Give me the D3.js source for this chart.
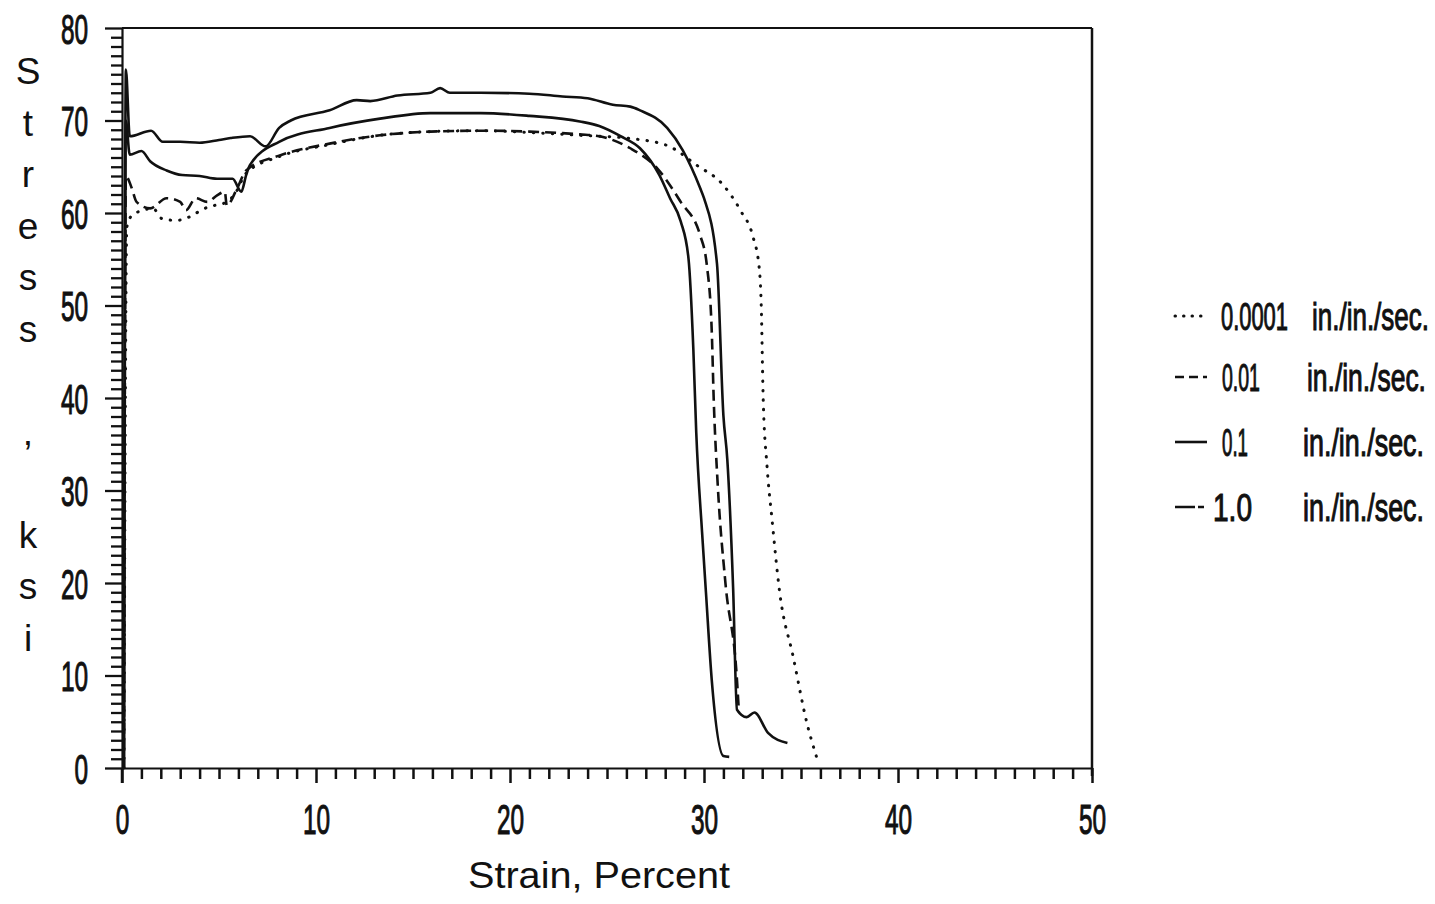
<!DOCTYPE html>
<html>
<head>
<meta charset="utf-8">
<script src="https://cdn.jsdelivr.net/npm/d3@7"></script>
<style>
  html, body { margin: 0; padding: 0; background: #fff; }
  svg { display: block; }
  text { fill: #111; font-family: "Liberation Sans", "DejaVu Sans", sans-serif; }
</style>
</head>
<body>
<svg id="chart" width="1435" height="904"></svg>
<script>
// Stress-strain curves at four strain rates: [strain %, stress ksi]
const rate00001 = [
  [0.1,0],[0.25,58.5],[0.5,59.7],[1.1,60.3],[1.6,60.5],[2.05,59.4],[2.8,59.2],[3.5,59.6],
  [4.0,60.2],[4.5,60.7],[5.2,61.0],[5.8,62.0],[6.4,64.3],[8.1,66.1],[10.7,67.4],[13.3,68.4],
  [15.9,68.8],[18.5,68.9],[21,68.7],[23.6,68.4],[26.0,68.1],[28.1,67.3],[29.6,65.2],[31.0,63.0],
  [31.9,60.2],[32.5,57.6],[32.85,54.0],[32.95,50.0],[33.05,40.0],[33.25,32.6],[33.5,27.0],
  [33.9,19.0],[34.6,12.0],[35.3,4.9],[35.8,1.2]
];
const rate001 = [
  [0.1,0],[0.2,64.0],[0.5,62.7],[0.75,61.2],[1.45,60.5],[2.3,61.6],[3.0,61.2],[3.3,60.3],
  [3.8,61.6],[4.4,61.2],[4.9,61.9],[5.3,62.3],[5.4,60.8],[5.9,62.5],[6.4,64.6],[8.1,66.2],
  [10.7,67.5],[13.3,68.4],[15.9,68.8],[18.5,68.9],[21,68.8],[23.6,68.5],[24.6,68.3],[26.2,67.0],
  [27.6,64.8],[28.8,61.2],[29.8,57.6],[30.15,54.3],[30.4,47.2],[30.5,39.9],[30.7,30.9],
  [31.1,20.1],[31.7,9.5],[31.8,6.0]
];
const rate01 = [
  [0.1,0],[0.2,70.0],[0.4,66.3],[1.0,66.7],[1.45,65.6],[2.3,64.6],[3.1,64.1],[4.0,64.0],
  [4.9,63.7],[5.7,63.7],[6.15,62.3],[6.4,64.1],[6.6,65.2],[8.1,67.7],[10.7,69.2],[13.3,70.2],
  [15.9,70.8],[18.5,70.8],[21,70.5],[23.6,69.9],[24.6,69.4],[25.7,68.3],[26.7,67.0],[27.7,64.1],
  [28.25,61.6],[28.8,59.1],[29.2,55.1],[29.45,45.3],[29.6,36.3],[29.9,25.5],[30.1,19.0],
  [30.4,9.5],[31.0,1.3],[31.3,1.2]
];
const rate10 = [
  [0.1,0],[0.2,75.5],[0.4,68.3],[1.5,68.9],[2.1,67.7],[3,67.7],[4,67.6],[5,67.9],[5.6,68.1],
  [6.6,68.3],[7.4,67.2],[8.1,69.2],[8.7,70.0],[10.7,71.1],[12.1,72.2],[12.8,72.1],[14.2,72.7],
  [15.9,73.0],[16.4,73.5],[16.9,73.0],[18.5,73.0],[21,72.9],[22.7,72.6],[24,72.4],[25.3,71.7],
  [26.2,71.5],[26.7,71.1],[28.1,69.2],[28.9,66.8],[29.8,62.7],[30.0,61.6],[30.67,54.5],
  [31.0,38.1],[31.2,33.4],[31.5,19.5],[31.7,6.3],[32.2,5.5],[32.6,6.0],[33.3,3.8],[34.3,2.7]
];

const rateLabels = ["0.0001", "0.01", "0.1", "1.0"];
const unitLabel = "in./in./sec.";
const xMajorTicks = [0, 10, 20, 30, 40, 50];
const yMajorTicks = [0, 10, 20, 30, 40, 50, 60, 70, 80];
const xTitle = "Strain, Percent";
const yTitle = "Stress , ksi";

const seriesList = [
  { data: rate00001, dash: "0.5 9", width: 3, cap: "round", sample: "0.5 8" },
  { data: rate001, dash: "11 6", width: 2.6, cap: "butt", sample: "9 5" },
  { data: rate01, dash: null, width: 2.6, cap: "butt", sample: null },
  { data: rate10, dash: null, width: 2.6, cap: "butt", sample: "20 3 6 40" }
];

const svg = d3.select("#chart");
const plotLeft = 122, plotRight = 1092, plotTop = 28, plotBottom = 768;
const x = d3.scaleLinear().domain([0, 50]).range([plotLeft, plotRight]);
const y = d3.scaleLinear().domain([0, 80]).range([plotBottom, plotTop]);

const narrow = 0.58;
const labelFont = "Liberation Sans, sans-serif";

// frame: top and right edges
svg.append("line").attr("x1", plotLeft).attr("x2", plotRight).attr("y1", plotTop).attr("y2", plotTop)
  .attr("stroke", "#111").attr("stroke-width", 2);
svg.append("line").attr("x1", plotRight).attr("x2", plotRight).attr("y1", plotTop).attr("y2", plotBottom + 8)
  .attr("stroke", "#111").attr("stroke-width", 2.5);

// x axis
const xAxis = d3.axisBottom(x)
  .tickValues(d3.range(0, 51, 1))
  .tickSizeInner(11).tickSizeOuter(0)
  .tickFormat(d => xMajorTicks.includes(d) ? String(d) : "");
const gx = svg.append("g").attr("transform", `translate(0,${plotBottom})`).call(xAxis);
gx.select(".domain").attr("stroke", "#111").attr("stroke-width", 2.2);
gx.selectAll(".tick line").attr("stroke", "#111").attr("stroke-width", 2.5)
  .attr("y2", d => xMajorTicks.includes(d) ? 15 : 11);
gx.selectAll(".tick text")
  .attr("y", 66).attr("dy", 0)
  .attr("font-size", 42)
  .attr("font-family", labelFont)
  .attr("stroke", "#111").attr("stroke-width", 1.1)
  .attr("transform", `scale(${narrow},1)`)
  .attr("fill", "#111");

// y axis
const yAxis = d3.axisLeft(y)
  .tickValues(d3.range(0, 81, 1))
  .tickSizeInner(11).tickSizeOuter(0)
  .tickFormat(d => yMajorTicks.includes(d) ? String(d) : "");
const gy = svg.append("g").attr("transform", `translate(${plotLeft},0)`).call(yAxis);
gy.select(".domain").attr("stroke", "#111").attr("stroke-width", 2.2);
gy.selectAll(".tick line").attr("stroke", "#111").attr("stroke-width", 2.3)
  .attr("x2", d => yMajorTicks.includes(d) ? -17 : -11);
gy.selectAll(".tick text")
  .attr("x", -34 / narrow).attr("dy", "0.36em")
  .attr("font-size", 42)
  .attr("font-family", labelFont)
  .attr("stroke", "#111").attr("stroke-width", 1.1)
  .attr("transform", `scale(${narrow},1)`)
  .attr("fill", "#111");

// zero tick on x extends below the axis
svg.append("line").attr("x1", plotLeft).attr("x2", plotLeft).attr("y1", plotBottom).attr("y2", plotBottom + 15)
  .attr("stroke", "#111").attr("stroke-width", 2.5);

// curves
const line = d3.line().curve(d3.curveMonotoneX).x(d => x(d[0])).y(d => y(d[1]));
seriesList.forEach(s => {
  svg.append("path")
    .datum(s.data)
    .attr("d", line)
    .attr("fill", "none")
    .attr("stroke", "#111")
    .attr("stroke-width", s.width)
    .attr("stroke-linecap", s.cap)
    .attr("stroke-linejoin", "round")
    .attr("stroke-dasharray", s.dash);
});

// axis titles
svg.append("text")
  .attr("x", 468).attr("y", 888)
  .attr("font-size", 36)
  .attr("font-family", "DejaVu Sans, sans-serif")
  .attr("textLength", 262).attr("lengthAdjust", "spacingAndGlyphs")
  .text(xTitle);

const yChars = Array.from(yTitle);
svg.append("g").selectAll("text")
  .data(yChars)
  .join("text")
  .attr("x", 28)
  .attr("y", (d, i) => 84 + i * 51.5)
  .attr("text-anchor", "middle")
  .attr("font-size", 37)
  .attr("font-family", "DejaVu Sans, sans-serif")
  .text(d => d);

// legend: condensed text squeezed to a given width
function narrowText(parent, str, px, baseline, width) {
  const g = parent.append("g");
  const t = g.append("text")
    .attr("x", 0).attr("y", 0)
    .attr("font-size", 38)
    .attr("font-family", labelFont)
    .attr("stroke", "#111").attr("stroke-width", 1.1)
    .text(str);
  const natural = t.node().getComputedTextLength();
  g.attr("transform", `translate(${px},${baseline}) scale(${width / natural},1)`);
}

const legendRows = [316, 377, 442, 507];
const numberPos = [[1221, 67], [1222, 38], [1222, 26], [1213, 39]];
const unitPos = [[1312, 117], [1307, 119], [1303, 121], [1303, 121]];
const lg = svg.append("g");
rateLabels.forEach((lab, i) => {
  const s = seriesList[i];
  const cy = legendRows[i];
  lg.append("line")
    .attr("x1", 1175).attr("x2", i === 3 ? 1206 : 1207)
    .attr("y1", cy).attr("y2", cy)
    .attr("stroke", "#111").attr("stroke-width", s.width)
    .attr("stroke-linecap", s.cap)
    .attr("stroke-dasharray", s.sample);
  narrowText(lg, lab, numberPos[i][0], cy + 14, numberPos[i][1]);
  narrowText(lg, unitLabel, unitPos[i][0], cy + 14, unitPos[i][1]);
});
</script>
</body>
</html>
